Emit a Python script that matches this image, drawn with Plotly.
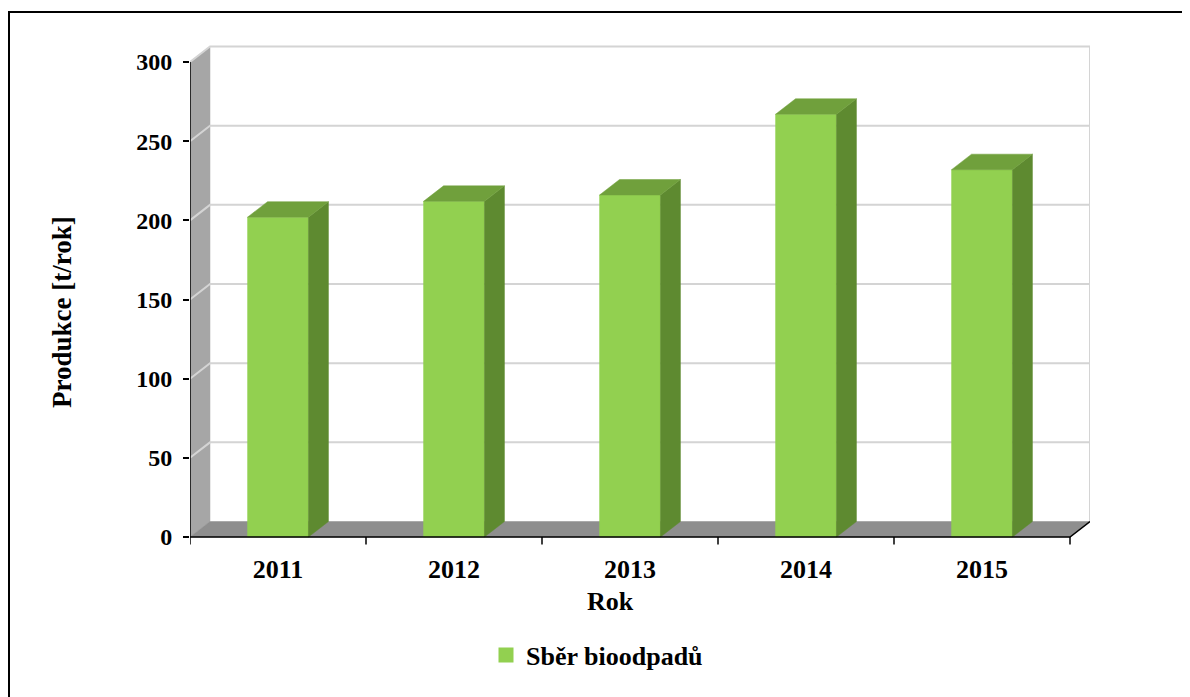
import plotly.graph_objects as go

# ---- data ----
years = ["2011", "2012", "2013", "2014", "2015"]
values = [202, 212, 216, 267, 232]
y_ticks = [0, 50, 100, 150, 200, 250, 300]
series_name = "Sběr bioodpadů"
x_title = "Rok"
y_title = "Produkce [t/rok]"

# ---- style ----
FRONT = "#92d050"
SIDE = "#5e8a30"
TOP = "#70a03c"
WALL = "#a6a6a6"
FLOOR = "#8e8e8e"
GRID = "#d4d4d4"
FONT = "Liberation Serif"

n = len(years)
DX = 20 / 176.0      # depth offset in category units
DY = 15.5 / 1.5833   # depth offset in value units
W = 0.346            # bar width (category units)
x0, x1 = -0.5, n - 0.5
ymax = y_ticks[-1]

fig = go.Figure()


def poly(xs, ys, color):
    fig.add_trace(go.Scatter(
        x=xs + [xs[0]], y=ys + [ys[0]], mode="lines", fill="toself",
        fillcolor=color, line=dict(color=color, width=0.5),
        hoverinfo="skip", showlegend=False))


def lines(xs, ys, color, width):
    fig.add_trace(go.Scatter(
        x=xs, y=ys, mode="lines", line=dict(color=color, width=width),
        hoverinfo="skip", showlegend=False))


# walls
poly([x0, x0 + DX, x0 + DX, x0], [0, DY, ymax + DY, ymax], WALL)
poly([x0, x1, x1 + DX, x0 + DX], [0, 0, DY, DY], FLOOR)

# gridlines on back wall and left wall
gx, gy = [], []
for v in y_ticks[1:]:
    gx += [x0, x0 + DX, x1 + DX, None]
    gy += [v, v + DY, v + DY, None]
gx += [x1 + DX, x1 + DX, None]
gy += [DY, ymax + DY, None]
lines(gx, gy, GRID, 2)

# bars (front, side, top faces)
for i, v in enumerate(values):
    l, r = i - W / 2, i + W / 2
    poly([l, r, r, l], [0, 0, v, v], FRONT)
    poly([r, r + DX, r + DX, r], [0, DY, v + DY, v], SIDE)
    poly([l, r, r + DX, l + DX], [v, v, v + DY, v + DY], TOP)

# axis lines
lines([x0, x0], [0, ymax], "black", 1.5)
lines([x0, x1, x1 + DX], [0, 0, DY], "black", 1.5)
tx, ty = [], []
for k in range(n + 1):
    tx += [x0 + k, x0 + k, None]
    ty += [0, -4.8, None]
lines(tx, ty, "black", 1.5)

# legend entry
fig.add_trace(go.Scatter(
    x=[None], y=[None], mode="markers", name=series_name,
    marker=dict(symbol="square", size=15, color=FRONT)))

fig.update_layout(
    width=1190, height=697, autosize=False,
    margin=dict(l=182, r=108, t=32, b=158),
    paper_bgcolor="white", plot_bgcolor="white",
    font=dict(family=FONT, color="black"),
    xaxis=dict(range=[x0, x1 + DX], tickvals=list(range(n)), ticktext=years,
               ticks="", showgrid=False, zeroline=False, showline=False,
               tickfont=dict(size=26, family=FONT, weight="bold"),
               ticklabelstandoff=4),
    yaxis=dict(range=[-10 / 1.5833, (537 - 40) / 1.5833], tickvals=y_ticks,
               ticks="outside", ticklen=6, tickwidth=1.5, tickcolor="black",
               showgrid=False, zeroline=False, showline=False,
               tickfont=dict(size=24, family=FONT, weight="bold"),
               ticklabelstandoff=6),
    showlegend=True,
    legend=dict(orientation="h", xref="container", x=589 / 1190, xanchor="center",
                yref="container", y=1 - 647 / 697, yanchor="middle",
                font=dict(size=26, family=FONT, weight="bold"),
                itemwidth=30),
    annotations=[
        dict(text=x_title, xref="paper", yref="paper", x=(610 - 190) / 900,
             y=(547 - 601) / 507, xanchor="center", yanchor="middle",
             showarrow=False, font=dict(size=26, family=FONT, weight="bold")),
        dict(text=y_title, xref="paper", yref="paper", x=(62 - 190) / 900,
             y=(547 - 312) / 507, xanchor="center", yanchor="middle",
             textangle=-90, showarrow=False,
             font=dict(size=27, family=FONT, weight="bold")),
    ],
    shapes=[dict(type="rect", xref="paper", yref="paper",
                 x0=(9 - 190) / 900, x1=1.12, y0=-0.32, y1=(547 - 12) / 507,
                 line=dict(color="black", width=2), layer="below")],
)

fig.write_html("out.html")
